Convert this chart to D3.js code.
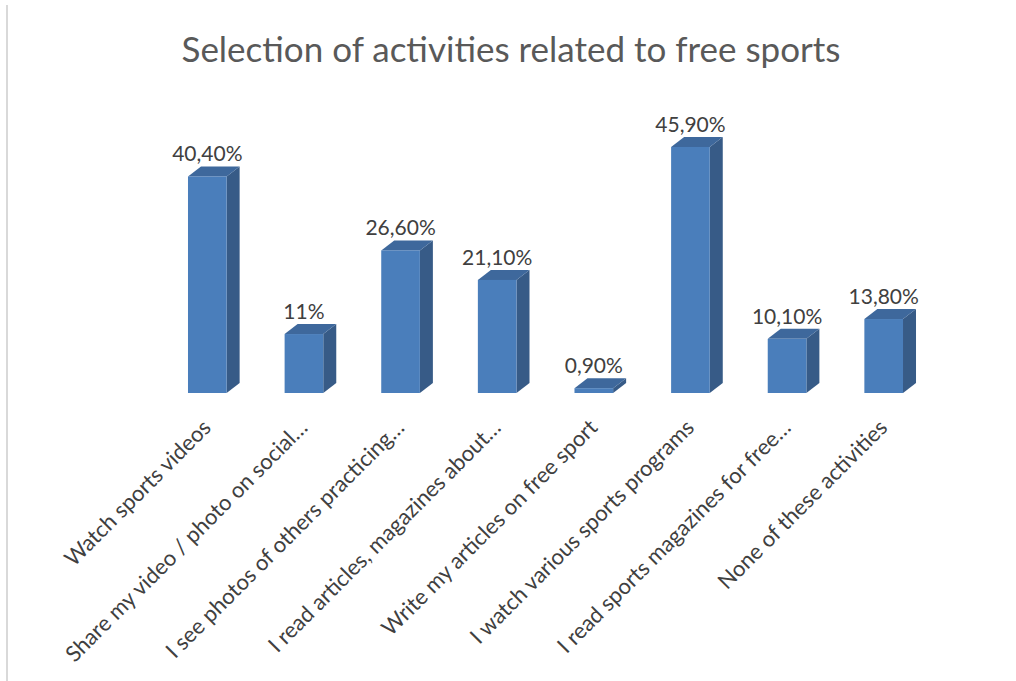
<!DOCTYPE html>
<html>
<head>
<meta charset="utf-8">
<script src="https://cdn.jsdelivr.net/npm/d3@7"></script>
<style>
  html, body { margin: 0; padding: 0; background: #fff; }
  svg { display: block; }
  text { font-family: Lato, "Open Sans", sans-serif; fill: #404040; }
</style>
</head>
<body>
<svg id="chart" width="1016" height="681"></svg>
<script>
// Share of respondents choosing each activity (%)
const categories = [
  "Watch sports videos",
  "Share my video / photo on social…",
  "I see photos of others practicing…",
  "I read articles, magazines about…",
  "Write my articles on free sport",
  "I watch various sports programs",
  "I read sports magazines for free…",
  "None of these activities"
];
const values = [40.4, 11, 26.6, 21.1, 0.9, 45.9, 10.1, 13.8];
const valueLabels = ["40,40%", "11%", "26,60%", "21,10%", "0,90%", "45,90%", "10,10%", "13,80%"];
const title = "Selection of activities related to free sports";

const W = 1016, H = 681;
const svg = d3.select("#chart");

// frame line on the left edge
svg.append("line")
  .attr("x1", 7).attr("x2", 7).attr("y1", 5).attr("y2", H)
  .attr("stroke", "#d9d9d9").attr("stroke-width", 2);

svg.append("text")
  .attr("x", 511).attr("y", 62)
  .attr("text-anchor", "middle")
  .style("font-size", "35px")
  .style("fill", "#595959")
  .text(title);

const baseY = 393;
const x = d3.scaleBand().domain(categories).range([159, 932]).paddingInner(0.6).paddingOuter(0.3);
const y = d3.scaleLinear().domain([0, 50]).range([baseY, baseY - 268]);

const depthX = 13, depthY = 10;
const bw = x.bandwidth();

const g = svg.append("g");
const bars = g.selectAll("g.bar").data(values).join("g").attr("class", "bar");

// right side face
bars.append("path")
  .attr("d", (d, i) => {
    const x1 = x(categories[i]) + bw, t = y(d);
    return `M${x1},${baseY}L${x1 + depthX},${baseY - depthY}L${x1 + depthX},${t - depthY}L${x1},${t}Z`;
  })
  .attr("fill", "#375b87");

// top face
bars.append("path")
  .attr("d", (d, i) => {
    const x0 = x(categories[i]), t = y(d);
    return `M${x0},${t}L${x0 + depthX},${t - depthY}L${x0 + bw + depthX},${t - depthY}L${x0 + bw},${t}Z`;
  })
  .attr("fill", "#3e689c");

// front face
bars.append("rect")
  .attr("x", (d, i) => x(categories[i]))
  .attr("y", d => y(d))
  .attr("width", bw)
  .attr("height", d => baseY - y(d))
  .attr("fill", "#4a7ebb");

// value labels
bars.append("text")
  .attr("x", (d, i) => x(categories[i]) + bw / 2)
  .attr("y", d => y(d) - 15)
  .attr("text-anchor", "middle")
  .style("font-size", "21px")
  .text((d, i) => valueLabels[i]);

// rotated category labels
g.selectAll("text.cat").data(categories).join("text")
  .attr("class", "cat")
  .attr("text-anchor", "end")
  .style("font-size", "22px")
  .attr("transform", d => `translate(${x(d) + bw / 2 + 5},${baseY + 36}) rotate(-45)`)
  .text(d => d);
</script>
</body>
</html>
